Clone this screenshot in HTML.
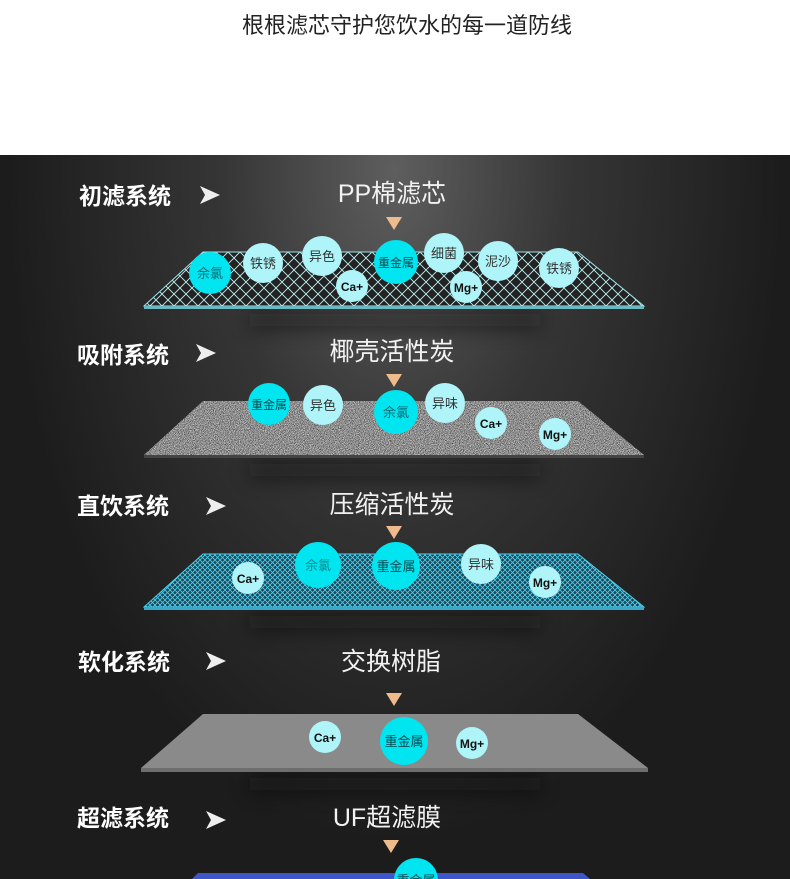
<!DOCTYPE html>
<html><head><meta charset="utf-8"><style>
html,body{margin:0;padding:0;width:790px;height:879px;overflow:hidden;background:#fff}
svg{display:block}
text{font-family:"Liberation Sans","Noto Sans CJK SC",sans-serif}
</style></head><body>
<svg width="790" height="879" viewBox="0 0 790 879" xmlns="http://www.w3.org/2000/svg">
<defs>
<radialGradient id="bg" cx="395" cy="170" r="520" gradientUnits="userSpaceOnUse" gradientTransform="translate(395 170) scale(0.75 1.3) translate(-395 -170)">
<stop offset="0" stop-color="#5e5e5e"/><stop offset="0.45" stop-color="#353535"/><stop offset="1" stop-color="#1c1c1c"/>
</radialGradient>
<pattern id="mesh1" width="12" height="12" patternUnits="userSpaceOnUse">
<rect width="12" height="12" fill="#222"/>
<path d="M0 0L12 12M-1 11L1 13M11 -1L13 1M12 0L0 12M-1 1L1 -1M11 13L13 11" stroke="#bff0f2" stroke-width="0.9"/>
</pattern>
<pattern id="mesh3" width="5" height="5" patternUnits="userSpaceOnUse">
<rect width="5" height="5" fill="#1f4555"/>
<path d="M0 0L5 5M5 0L0 5" stroke="#4cd2f0" stroke-width="0.8"/>
</pattern>
<filter id="noise" x="0" y="0" width="1" height="1">
<feTurbulence type="fractalNoise" baseFrequency="1.8" numOctaves="1" seed="3" result="t"/>
<feColorMatrix in="t" type="matrix" values="0 0 0 0 0.8  0 0 0 0 0.8  0 0 0 0 0.8  3 0 0 0 -1.2" result="n"/>
<feComposite in="n" in2="SourceGraphic" operator="in" result="c"/>
<feMerge><feMergeNode in="SourceGraphic"/><feMergeNode in="c"/></feMerge>
</filter>
<filter id="blur" x="-0.5" y="-2" width="2" height="5"><feGaussianBlur stdDeviation="10"/></filter>
</defs>
<rect x="0" y="0" width="790" height="155" fill="#fff"/>
<rect x="0" y="155" width="790" height="724" fill="url(#bg)"/>
<text x="407" y="33" font-size="22" fill="#222" text-anchor="middle">根根滤芯守护您饮水的每一道防线</text>

<g fill="#0c0c0c" opacity="0.55" filter="url(#blur)">
<rect x="250" y="312" width="290" height="16"/>
<rect x="250" y="462" width="290" height="16"/>
<rect x="250" y="614" width="290" height="16"/>
<rect x="250" y="776" width="290" height="16"/>
</g>

<g font-weight="bold" font-size="23" fill="#fff">
<text x="79" y="204">初滤系统</text>
<text x="77" y="363">吸附系统</text>
<text x="77" y="514">直饮系统</text>
<text x="78" y="670">软化系统</text>
<text x="77" y="826">超滤系统</text>
</g>
<g fill="#eee">
<path d="M200 186L220 195L200 204L205 195Z"/>
<path d="M196 344L216 353L196 362L201 353Z"/>
<path d="M206 497L226 506L206 515L211 506Z"/>
<path d="M206 652L226 661L206 670L211 661Z"/>
<path d="M206 811L226 820L206 829L211 820Z"/>
</g>
<g font-size="25" fill="#f2f2f2" text-anchor="middle">
<text x="392" y="202">PP棉滤芯</text>
<text x="392" y="360">椰壳活性炭</text>
<text x="392" y="513">压缩活性炭</text>
<text x="391" y="670">交换树脂</text>
<text x="387" y="826">UF超滤膜</text>
</g>
<g fill="#eebb8c">
<path d="M386 217L402 217L394 230Z"/>
<path d="M386 374L402 374L394 387Z"/>
<path d="M386 526L402 526L394 539Z"/>
<path d="M386 693L402 693L394 706Z"/>
<path d="M383 840L399 840L391 853Z"/>
</g>

<path d="M203 252L578 252L644 306L144 306Z" fill="url(#mesh1)" stroke="#9ee3ea" stroke-width="1"/>
<rect x="144" y="306" width="500" height="3" fill="#6bb8c2"/>
<path d="M203 401L578 401L644 455L144 455Z" fill="#4a4a4a" filter="url(#noise)"/>
<rect x="144" y="455" width="500" height="3" fill="#444"/>
<path d="M203 554L578 554L644 607L144 607Z" fill="url(#mesh3)" stroke="#4ad0ee" stroke-width="1"/>
<rect x="144" y="607" width="500" height="3" fill="#3aa8cc"/>
<path d="M203 714L578 714L648 768L141 768Z" fill="#8a8a8a"/>
<rect x="141" y="768" width="507" height="4" fill="#6e6e6e"/>
<path d="M198 873L583 873L590 879L192 879Z" fill="#3e55cc"/>

<g font-size="13" text-anchor="middle" fill="#333">
<circle cx="210" cy="273" r="21" fill="#00e5f0"/><text x="210" y="278" fill="#0a6a70">余氯</text>
<circle cx="263" cy="263" r="20" fill="#aef4f8"/><text x="263" y="268">铁锈</text>
<circle cx="322" cy="256" r="20" fill="#aef4f8"/><text x="322" y="261">异色</text>
<circle cx="352" cy="286" r="16" fill="#aef4f8"/><text x="352" y="291" font-size="12" font-weight="bold" fill="#111">Ca+</text>
<circle cx="396" cy="262" r="22" fill="#00e5f0"/><text x="396" y="267" font-size="12" fill="#0a4a50">重金属</text>
<circle cx="444" cy="253" r="20" fill="#aef4f8"/><text x="444" y="258">细菌</text>
<circle cx="466" cy="287" r="16" fill="#aef4f8"/><text x="466" y="292" font-size="12" font-weight="bold" fill="#111">Mg+</text>
<circle cx="498" cy="261" r="20" fill="#aef4f8"/><text x="498" y="266">泥沙</text>
<circle cx="559" cy="268" r="20" fill="#aef4f8"/><text x="559" y="273">铁锈</text>
<circle cx="269" cy="404" r="21" fill="#00e5f0"/><text x="269" y="409" font-size="12" fill="#0a4a50">重金属</text>
<circle cx="323" cy="405" r="20" fill="#aef4f8"/><text x="323" y="410">异色</text>
<circle cx="396" cy="412" r="22" fill="#00e5f0"/><text x="396" y="417" fill="#0a6a70">余氯</text>
<circle cx="445" cy="403" r="20" fill="#aef4f8"/><text x="445" y="408">异味</text>
<circle cx="491" cy="423" r="16" fill="#aef4f8"/><text x="491" y="428" font-size="12" font-weight="bold" fill="#111">Ca+</text>
<circle cx="555" cy="434" r="16" fill="#aef4f8"/><text x="555" y="439" font-size="12" font-weight="bold" fill="#111">Mg+</text>
<circle cx="248" cy="578" r="16" fill="#aef4f8"/><text x="248" y="583" font-size="12" font-weight="bold" fill="#111">Ca+</text>
<circle cx="318" cy="565" r="23" fill="#00e5f0"/><text x="318" y="570" fill="#0a8a90">余氯</text>
<circle cx="396" cy="566" r="24" fill="#00e5f0"/><text x="396" y="571" fill="#0a4a50">重金属</text>
<circle cx="481" cy="564" r="20" fill="#aef4f8"/><text x="481" y="569">异味</text>
<circle cx="545" cy="582" r="16" fill="#aef4f8"/><text x="545" y="587" font-size="12" font-weight="bold" fill="#111">Mg+</text>
<circle cx="325" cy="737" r="16" fill="#aef4f8"/><text x="325" y="742" font-size="12" font-weight="bold" fill="#111">Ca+</text>
<circle cx="404" cy="741" r="24" fill="#00e5f0"/><text x="404" y="746" fill="#0a4a50">重金属</text>
<circle cx="472" cy="743" r="16" fill="#aef4f8"/><text x="472" y="748" font-size="12" font-weight="bold" fill="#111">Mg+</text>
<circle cx="416" cy="880" r="22" fill="#00e5f0"/><text x="416" y="885" fill="#0a4a50">重金属</text>
</g>
</svg>
</body></html>
